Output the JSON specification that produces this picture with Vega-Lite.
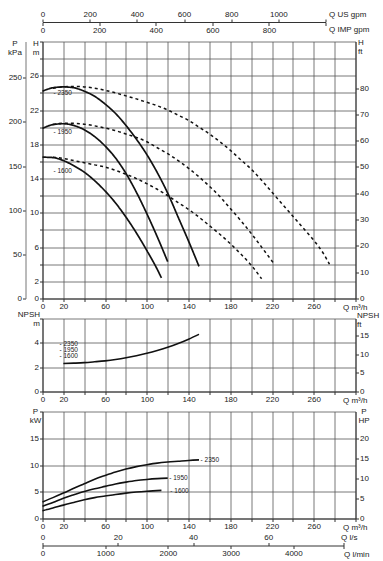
{
  "$schema": "https://vega.github.io/schema/vega-lite/v6.json",
  "padding": {"left": 7.5, "top": 9.5, "right": 5, "bottom": 5},
  "bounds": "flush",
  "spacing": 20,
  "datasets": {
    "head": [
      {"series": "2350 solid", "style": "solid", "Q": 0, "H": 24.2},
      {"series": "2350 solid", "style": "solid", "Q": 10, "H": 24.6},
      {"series": "2350 solid", "style": "solid", "Q": 20, "H": 24.7},
      {"series": "2350 solid", "style": "solid", "Q": 30, "H": 24.6},
      {"series": "2350 solid", "style": "solid", "Q": 40, "H": 24.2},
      {"series": "2350 solid", "style": "solid", "Q": 50, "H": 23.6},
      {"series": "2350 solid", "style": "solid", "Q": 60, "H": 22.7},
      {"series": "2350 solid", "style": "solid", "Q": 70, "H": 21.6},
      {"series": "2350 solid", "style": "solid", "Q": 80, "H": 20.2},
      {"series": "2350 solid", "style": "solid", "Q": 90, "H": 18.6},
      {"series": "2350 solid", "style": "solid", "Q": 100, "H": 16.8},
      {"series": "2350 solid", "style": "solid", "Q": 110, "H": 14.7},
      {"series": "2350 solid", "style": "solid", "Q": 120, "H": 12.3},
      {"series": "2350 solid", "style": "solid", "Q": 130, "H": 9.5},
      {"series": "2350 solid", "style": "solid", "Q": 140, "H": 6.7},
      {"series": "2350 solid", "style": "solid", "Q": 150, "H": 3.75},
      {"series": "1950 solid", "style": "solid", "Q": 0, "H": 19.85},
      {"series": "1950 solid", "style": "solid", "Q": 10, "H": 20.3},
      {"series": "1950 solid", "style": "solid", "Q": 20, "H": 20.4},
      {"series": "1950 solid", "style": "solid", "Q": 30, "H": 20.2},
      {"series": "1950 solid", "style": "solid", "Q": 40, "H": 19.7},
      {"series": "1950 solid", "style": "solid", "Q": 50, "H": 18.9},
      {"series": "1950 solid", "style": "solid", "Q": 60, "H": 17.8},
      {"series": "1950 solid", "style": "solid", "Q": 70, "H": 16.4},
      {"series": "1950 solid", "style": "solid", "Q": 80, "H": 14.6},
      {"series": "1950 solid", "style": "solid", "Q": 90, "H": 12.4},
      {"series": "1950 solid", "style": "solid", "Q": 100, "H": 9.9},
      {"series": "1950 solid", "style": "solid", "Q": 110, "H": 7.2},
      {"series": "1950 solid", "style": "solid", "Q": 120, "H": 4.3},
      {"series": "1600 solid", "style": "solid", "Q": 0, "H": 16.5},
      {"series": "1600 solid", "style": "solid", "Q": 10, "H": 16.45},
      {"series": "1600 solid", "style": "solid", "Q": 20, "H": 16.1},
      {"series": "1600 solid", "style": "solid", "Q": 30, "H": 15.5},
      {"series": "1600 solid", "style": "solid", "Q": 40, "H": 14.75},
      {"series": "1600 solid", "style": "solid", "Q": 50, "H": 13.75},
      {"series": "1600 solid", "style": "solid", "Q": 60, "H": 12.55},
      {"series": "1600 solid", "style": "solid", "Q": 70, "H": 11.15},
      {"series": "1600 solid", "style": "solid", "Q": 80, "H": 9.5},
      {"series": "1600 solid", "style": "solid", "Q": 90, "H": 7.65},
      {"series": "1600 solid", "style": "solid", "Q": 100, "H": 5.6},
      {"series": "1600 solid", "style": "solid", "Q": 110, "H": 3.4},
      {"series": "1600 solid", "style": "solid", "Q": 114, "H": 2.4},
      {"series": "2350 dashed", "style": "dashed", "Q": 10, "H": 24.55},
      {"series": "2350 dashed", "style": "dashed", "Q": 20, "H": 24.7},
      {"series": "2350 dashed", "style": "dashed", "Q": 30, "H": 24.75},
      {"series": "2350 dashed", "style": "dashed", "Q": 40, "H": 24.7},
      {"series": "2350 dashed", "style": "dashed", "Q": 50, "H": 24.55},
      {"series": "2350 dashed", "style": "dashed", "Q": 60, "H": 24.3},
      {"series": "2350 dashed", "style": "dashed", "Q": 70, "H": 24.0},
      {"series": "2350 dashed", "style": "dashed", "Q": 80, "H": 23.65},
      {"series": "2350 dashed", "style": "dashed", "Q": 90, "H": 23.3},
      {"series": "2350 dashed", "style": "dashed", "Q": 100, "H": 22.9},
      {"series": "2350 dashed", "style": "dashed", "Q": 110, "H": 22.5},
      {"series": "2350 dashed", "style": "dashed", "Q": 120, "H": 22.0},
      {"series": "2350 dashed", "style": "dashed", "Q": 130, "H": 21.4},
      {"series": "2350 dashed", "style": "dashed", "Q": 140, "H": 20.8},
      {"series": "2350 dashed", "style": "dashed", "Q": 150, "H": 20.0},
      {"series": "2350 dashed", "style": "dashed", "Q": 160, "H": 19.2},
      {"series": "2350 dashed", "style": "dashed", "Q": 170, "H": 18.3},
      {"series": "2350 dashed", "style": "dashed", "Q": 180, "H": 17.3},
      {"series": "2350 dashed", "style": "dashed", "Q": 190, "H": 16.2},
      {"series": "2350 dashed", "style": "dashed", "Q": 200, "H": 15.1},
      {"series": "2350 dashed", "style": "dashed", "Q": 210, "H": 13.8},
      {"series": "2350 dashed", "style": "dashed", "Q": 220, "H": 12.4},
      {"series": "2350 dashed", "style": "dashed", "Q": 230, "H": 11.0},
      {"series": "2350 dashed", "style": "dashed", "Q": 240, "H": 9.6},
      {"series": "2350 dashed", "style": "dashed", "Q": 250, "H": 8.2},
      {"series": "2350 dashed", "style": "dashed", "Q": 260, "H": 6.8},
      {"series": "2350 dashed", "style": "dashed", "Q": 270, "H": 5.1},
      {"series": "2350 dashed", "style": "dashed", "Q": 275, "H": 4.0},
      {"series": "1950 dashed", "style": "dashed", "Q": 10, "H": 20.3},
      {"series": "1950 dashed", "style": "dashed", "Q": 20, "H": 20.45},
      {"series": "1950 dashed", "style": "dashed", "Q": 30, "H": 20.45},
      {"series": "1950 dashed", "style": "dashed", "Q": 40, "H": 20.35},
      {"series": "1950 dashed", "style": "dashed", "Q": 50, "H": 20.15},
      {"series": "1950 dashed", "style": "dashed", "Q": 60, "H": 19.9},
      {"series": "1950 dashed", "style": "dashed", "Q": 70, "H": 19.6},
      {"series": "1950 dashed", "style": "dashed", "Q": 80, "H": 19.2},
      {"series": "1950 dashed", "style": "dashed", "Q": 90, "H": 18.8},
      {"series": "1950 dashed", "style": "dashed", "Q": 100, "H": 18.3},
      {"series": "1950 dashed", "style": "dashed", "Q": 110, "H": 17.6},
      {"series": "1950 dashed", "style": "dashed", "Q": 120, "H": 16.9},
      {"series": "1950 dashed", "style": "dashed", "Q": 130, "H": 16.1},
      {"series": "1950 dashed", "style": "dashed", "Q": 140, "H": 15.2},
      {"series": "1950 dashed", "style": "dashed", "Q": 150, "H": 14.2},
      {"series": "1950 dashed", "style": "dashed", "Q": 160, "H": 13.1},
      {"series": "1950 dashed", "style": "dashed", "Q": 170, "H": 11.9},
      {"series": "1950 dashed", "style": "dashed", "Q": 180, "H": 10.5},
      {"series": "1950 dashed", "style": "dashed", "Q": 190, "H": 9.1},
      {"series": "1950 dashed", "style": "dashed", "Q": 200, "H": 7.6},
      {"series": "1950 dashed", "style": "dashed", "Q": 210, "H": 6.0},
      {"series": "1950 dashed", "style": "dashed", "Q": 221, "H": 4.2},
      {"series": "1600 dashed", "style": "dashed", "Q": 10, "H": 16.5},
      {"series": "1600 dashed", "style": "dashed", "Q": 20, "H": 16.35},
      {"series": "1600 dashed", "style": "dashed", "Q": 30, "H": 16.1},
      {"series": "1600 dashed", "style": "dashed", "Q": 40, "H": 15.85},
      {"series": "1600 dashed", "style": "dashed", "Q": 50, "H": 15.6},
      {"series": "1600 dashed", "style": "dashed", "Q": 60, "H": 15.35},
      {"series": "1600 dashed", "style": "dashed", "Q": 70, "H": 14.95},
      {"series": "1600 dashed", "style": "dashed", "Q": 80, "H": 14.5},
      {"series": "1600 dashed", "style": "dashed", "Q": 90, "H": 14.0},
      {"series": "1600 dashed", "style": "dashed", "Q": 100, "H": 13.4},
      {"series": "1600 dashed", "style": "dashed", "Q": 110, "H": 12.75},
      {"series": "1600 dashed", "style": "dashed", "Q": 120, "H": 12.0},
      {"series": "1600 dashed", "style": "dashed", "Q": 130, "H": 11.2},
      {"series": "1600 dashed", "style": "dashed", "Q": 140, "H": 10.4},
      {"series": "1600 dashed", "style": "dashed", "Q": 150, "H": 9.5},
      {"series": "1600 dashed", "style": "dashed", "Q": 160, "H": 8.5},
      {"series": "1600 dashed", "style": "dashed", "Q": 170, "H": 7.5},
      {"series": "1600 dashed", "style": "dashed", "Q": 180, "H": 6.4},
      {"series": "1600 dashed", "style": "dashed", "Q": 190, "H": 5.2},
      {"series": "1600 dashed", "style": "dashed", "Q": 200, "H": 3.9},
      {"series": "1600 dashed", "style": "dashed", "Q": 210, "H": 2.3}
    ],
    "headLabels": [
      {"Q": 10.5, "H": 24.0, "t": "- 2350"},
      {"Q": 10.5, "H": 19.4, "t": "- 1950"},
      {"Q": 10.5, "H": 14.9, "t": "- 1600"}
    ],
    "npsh": [
      {"Q": 20, "N": 2.3}, {"Q": 30, "N": 2.33}, {"Q": 40, "N": 2.37}, {"Q": 50, "N": 2.44},
      {"Q": 60, "N": 2.52}, {"Q": 70, "N": 2.63}, {"Q": 80, "N": 2.77}, {"Q": 90, "N": 2.94},
      {"Q": 100, "N": 3.14}, {"Q": 110, "N": 3.37}, {"Q": 120, "N": 3.63}, {"Q": 130, "N": 3.94},
      {"Q": 140, "N": 4.3}, {"Q": 150, "N": 4.7}
    ],
    "npshLabels": [
      {"Q": 16.3, "N": 3.88, "t": "- 2350"},
      {"Q": 16.3, "N": 3.39, "t": "- 1950"},
      {"Q": 16.3, "N": 2.89, "t": "- 1600"}
    ],
    "power": [
      {"series": "2350", "Q": 0, "P": 3.1}, {"series": "2350", "Q": 10, "P": 3.9}, {"series": "2350", "Q": 20, "P": 4.75},
      {"series": "2350", "Q": 30, "P": 5.65}, {"series": "2350", "Q": 40, "P": 6.5}, {"series": "2350", "Q": 50, "P": 7.35},
      {"series": "2350", "Q": 60, "P": 8.05}, {"series": "2350", "Q": 70, "P": 8.7}, {"series": "2350", "Q": 80, "P": 9.25},
      {"series": "2350", "Q": 90, "P": 9.7}, {"series": "2350", "Q": 100, "P": 10.05}, {"series": "2350", "Q": 110, "P": 10.35},
      {"series": "2350", "Q": 120, "P": 10.55}, {"series": "2350", "Q": 130, "P": 10.7}, {"series": "2350", "Q": 140, "P": 10.85},
      {"series": "2350", "Q": 150, "P": 10.95},
      {"series": "1950", "Q": 0, "P": 2.3}, {"series": "1950", "Q": 10, "P": 3.0}, {"series": "1950", "Q": 20, "P": 3.8},
      {"series": "1950", "Q": 30, "P": 4.45}, {"series": "1950", "Q": 40, "P": 5.05}, {"series": "1950", "Q": 50, "P": 5.55},
      {"series": "1950", "Q": 60, "P": 6.0}, {"series": "1950", "Q": 70, "P": 6.45}, {"series": "1950", "Q": 80, "P": 6.8},
      {"series": "1950", "Q": 90, "P": 7.1}, {"series": "1950", "Q": 100, "P": 7.3}, {"series": "1950", "Q": 110, "P": 7.45},
      {"series": "1950", "Q": 120, "P": 7.55},
      {"series": "1600", "Q": 0, "P": 1.45}, {"series": "1600", "Q": 10, "P": 1.95}, {"series": "1600", "Q": 20, "P": 2.5},
      {"series": "1600", "Q": 30, "P": 3.0}, {"series": "1600", "Q": 40, "P": 3.5}, {"series": "1600", "Q": 50, "P": 3.9},
      {"series": "1600", "Q": 60, "P": 4.2}, {"series": "1600", "Q": 70, "P": 4.5}, {"series": "1600", "Q": 80, "P": 4.75},
      {"series": "1600", "Q": 90, "P": 4.95}, {"series": "1600", "Q": 100, "P": 5.1}, {"series": "1600", "Q": 114, "P": 5.25}
    ],
    "powerLabels": [
      {"Q": 151.5, "P": 11.0, "t": "- 2350"},
      {"Q": 121.5, "P": 7.5, "t": "- 1950"},
      {"Q": 122.5, "P": 5.2, "t": "- 1600"}
    ],
    "zero": [{"v": 0, "w": 0}]
  },
  "vconcat": [
    {
      "width": 313,
      "height": 257,
      "resolve": {"scale": {"x": "independent", "y": "independent"}},
      "layer": [
        {
          "data": {"name": "head"},
          "mark": {"type": "line", "interpolate": "monotone", "color": "#111"},
          "encoding": {
            "x": {"field": "Q", "type": "quantitative", "scale": {"domain": [0, 300], "nice": false},
              "axis": {"orient": "bottom", "values": [0,20,40,60,80,100,120,140,160,180,200,220,240,260,280,300],
                "labelExpr": "(datum.value == 0 || datum.value % 40 == 20) && datum.value < 280 ? datum.label : ''",
                "grid": true, "title": "Q m³/h", "titleX": 300, "titleY": 9, "titleAlign": "left", "titleBaseline": "middle"}},
            "y": {"field": "H", "type": "quantitative", "scale": {"domain": [0, 30], "nice": false},
              "axis": {"orient": "left", "values": [0,2,4,6,8,10,12,14,16,18,20,22,24,26,28,30],
                "labelExpr": "datum.value == 0 || (datum.value % 4 == 2 && datum.value < 28) ? datum.label : ''",
                "grid": true, "title": ["H", "m"], "titleX": -7, "titleY": -2, "titleAlign": "center", "titleBaseline": "top"}},
            "detail": {"field": "series"},
            "strokeDash": {"field": "style", "type": "nominal", "scale": {"domain": ["solid", "dashed"], "range": [[1, 0], [3, 3]]}, "legend": null},
            "strokeWidth": {"field": "style", "type": "nominal", "scale": {"domain": ["solid", "dashed"], "range": [1.7, 1.5]}, "legend": null}
          }
        },
        {
          "data": {"name": "headLabels"},
          "mark": {"type": "text", "align": "left", "baseline": "middle", "fontSize": 6.5, "color": "#222"},
          "encoding": {
            "x": {"field": "Q", "type": "quantitative", "scale": {"domain": [0, 300], "nice": false}, "axis": null},
            "y": {"field": "H", "type": "quantitative", "scale": {"domain": [0, 30], "nice": false}, "axis": null},
            "text": {"field": "t"}
          }
        },
        {
          "data": {"name": "zero"},
          "mark": {"type": "point", "opacity": 0},
          "encoding": {
            "x": {"field": "w", "type": "quantitative", "scale": {"domain": [0, 300], "nice": false}, "axis": null},
            "y": {"field": "v", "type": "quantitative", "scale": {"domain": [0, 97.7], "nice": false},
              "axis": {"orient": "right", "values": [0,10,20,30,40,50,60,70,80], "grid": false,
                "title": ["H", "ft"], "titleX": 2, "titleY": -3, "titleAlign": "left", "titleBaseline": "top"}}
          }
        },
        {
          "data": {"name": "zero"},
          "mark": {"type": "point", "opacity": 0},
          "encoding": {
            "x": {"field": "w", "type": "quantitative", "scale": {"domain": [0, 300], "nice": false}, "axis": null},
            "y": {"field": "v", "type": "quantitative", "scale": {"domain": [0, 291], "nice": false},
              "axis": {"orient": "left", "offset": 17, "values": [0,50,100,150,200,250], "grid": false, "domainColor": "#777",
                "title": ["P", "kPa"], "titleX": -11, "titleY": -2, "titleAlign": "center", "titleBaseline": "top"}}
          }
        },
        {
          "data": {"name": "zero"},
          "mark": {"type": "point", "opacity": 0},
          "encoding": {
            "x": {"field": "v", "type": "quantitative", "scale": {"domain": [0, 1200], "range": [0, 283], "nice": false},
              "axis": {"orient": "top", "offset": 19.5, "values": [0,200,400,600,800,1000,1200], "grid": false, "format": "d",
                "labelExpr": "datum.value < 1200 ? datum.label : ''",
                "title": "Q US gpm", "titleX": 286, "titleY": -8, "titleAlign": "left", "titleBaseline": "middle"}},
            "y": {"field": "w", "type": "quantitative", "scale": {"domain": [0, 30], "nice": false}, "axis": null}
          }
        },
        {
          "data": {"name": "zero"},
          "mark": {"type": "point", "opacity": 0},
          "encoding": {
            "x": {"field": "v", "type": "quantitative", "scale": {"domain": [0, 1000], "range": [0, 283], "nice": false},
              "axis": {"orient": "bottom", "offset": -276, "values": [0,200,400,600,800,1000], "grid": false, "domain": false, "format": "d",
                "labelExpr": "datum.value < 1000 ? datum.label : ''",
                "title": "Q IMP gpm", "titleX": 286, "titleY": 7, "titleAlign": "left", "titleBaseline": "middle"}},
            "y": {"field": "w", "type": "quantitative", "scale": {"domain": [0, 30], "nice": false}, "axis": null}
          }
        }
      ]
    },
    {
      "width": 313,
      "height": 73,
      "resolve": {"scale": {"x": "independent", "y": "independent"}},
      "layer": [
        {
          "data": {"name": "npsh"},
          "mark": {"type": "line", "interpolate": "monotone", "color": "#111", "strokeWidth": 1.6},
          "encoding": {
            "x": {"field": "Q", "type": "quantitative", "scale": {"domain": [0, 300], "nice": false},
              "axis": {"orient": "bottom", "values": [0,20,40,60,80,100,120,140,160,180,200,220,240,260,280,300],
                "labelExpr": "(datum.value == 0 || datum.value % 40 == 20) && datum.value < 280 ? datum.label : ''",
                "grid": true, "title": "Q m³/h", "titleX": 300, "titleY": 9, "titleAlign": "left", "titleBaseline": "middle"}},
            "y": {"field": "N", "type": "quantitative", "scale": {"domain": [0, 6], "nice": false},
              "axis": {"orient": "left", "values": [0,2,4,6], "labelExpr": "datum.value < 6 ? datum.label : ''",
                "grid": true, "title": ["NPSH", "m"], "titleX": -3, "titleY": -8, "titleAlign": "right", "titleBaseline": "top"}}
          }
        },
        {
          "data": {"name": "npshLabels"},
          "mark": {"type": "text", "align": "left", "baseline": "middle", "fontSize": 6.5, "color": "#222"},
          "encoding": {
            "x": {"field": "Q", "type": "quantitative", "scale": {"domain": [0, 300], "nice": false}, "axis": null},
            "y": {"field": "N", "type": "quantitative", "scale": {"domain": [0, 6], "nice": false}, "axis": null},
            "text": {"field": "t"}
          }
        },
        {
          "data": {"name": "zero"},
          "mark": {"type": "point", "opacity": 0},
          "encoding": {
            "x": {"field": "w", "type": "quantitative", "scale": {"domain": [0, 300], "nice": false}, "axis": null},
            "y": {"field": "v", "type": "quantitative", "scale": {"domain": [0, 19.69], "nice": false},
              "axis": {"orient": "right", "values": [0,5,10,15], "grid": false,
                "title": ["NPSH", "ft"], "titleX": 1, "titleY": -7, "titleAlign": "left", "titleBaseline": "top"}}
          }
        }
      ]
    },
    {
      "width": 313,
      "height": 107,
      "resolve": {"scale": {"x": "independent", "y": "independent"}},
      "layer": [
        {
          "data": {"name": "power"},
          "mark": {"type": "line", "interpolate": "monotone", "color": "#111", "strokeWidth": 1.6},
          "encoding": {
            "x": {"field": "Q", "type": "quantitative", "scale": {"domain": [0, 300], "nice": false},
              "axis": {"orient": "bottom", "values": [0,20,40,60,80,100,120,140,160,180,200,220,240,260,280,300],
                "labelExpr": "(datum.value == 0 || datum.value % 40 == 20) && datum.value < 280 ? datum.label : ''",
                "grid": true, "title": "Q m³/h", "titleX": 300, "titleY": 9, "titleAlign": "left", "titleBaseline": "middle"}},
            "y": {"field": "P", "type": "quantitative", "scale": {"domain": [0, 20], "nice": false},
              "axis": {"orient": "left", "values": [0,5,10,15,20], "labelExpr": "datum.value < 20 ? datum.label : ''",
                "grid": true, "title": ["P", "kW"], "titleX": -7.5, "titleY": -4, "titleAlign": "center", "titleBaseline": "top"}},
            "detail": {"field": "series"}
          }
        },
        {
          "data": {"name": "powerLabels"},
          "mark": {"type": "text", "align": "left", "baseline": "middle", "fontSize": 6.5, "color": "#222"},
          "encoding": {
            "x": {"field": "Q", "type": "quantitative", "scale": {"domain": [0, 300], "nice": false}, "axis": null},
            "y": {"field": "P", "type": "quantitative", "scale": {"domain": [0, 20], "nice": false}, "axis": null},
            "text": {"field": "t"}
          }
        },
        {
          "data": {"name": "zero"},
          "mark": {"type": "point", "opacity": 0},
          "encoding": {
            "x": {"field": "w", "type": "quantitative", "scale": {"domain": [0, 300], "nice": false}, "axis": null},
            "y": {"field": "v", "type": "quantitative", "scale": {"domain": [0, 26.82], "nice": false},
              "axis": {"orient": "right", "values": [0,5,10,15,20], "grid": false,
                "title": ["P", "HP"], "titleX": 8, "titleY": -4, "titleAlign": "center", "titleBaseline": "top"}}
          }
        },
        {
          "data": {"name": "zero"},
          "mark": {"type": "point", "opacity": 0},
          "encoding": {
            "x": {"field": "v", "type": "quantitative", "scale": {"domain": [0, 80], "range": [0, 301], "nice": false},
              "axis": {"orient": "top", "offset": -134, "values": [0,20,40,60,80], "grid": false,
                "labelExpr": "datum.value < 80 ? datum.label : ''",
                "title": "Q l/s", "titleX": 298, "titleY": -8, "titleAlign": "left", "titleBaseline": "middle"}},
            "y": {"field": "w", "type": "quantitative", "scale": {"domain": [0, 20], "nice": false}, "axis": null}
          }
        },
        {
          "data": {"name": "zero"},
          "mark": {"type": "point", "opacity": 0},
          "encoding": {
            "x": {"field": "v", "type": "quantitative", "scale": {"domain": [0, 4800], "range": [0, 301], "nice": false},
              "axis": {"orient": "bottom", "offset": 27, "values": [0,1000,2000,3000,4000,4800], "grid": false, "domain": false, "format": "d",
                "labelExpr": "datum.value < 4800 ? datum.label : ''",
                "title": "Q l/min", "titleX": 301, "titleY": 9, "titleAlign": "left", "titleBaseline": "middle"}},
            "y": {"field": "w", "type": "quantitative", "scale": {"domain": [0, 20], "nice": false}, "axis": null}
          }
        }
      ]
    }
  ],
  "config": {
    "font": "Liberation Sans",
    "view": {"stroke": null},
    "axis": {
      "labelFont": "Liberation Sans", "labelFontSize": 8, "labelColor": "#222", "labelFlush": false, "labelOverlap": false, "labelPadding": 1,
      "titleFont": "Liberation Sans", "titleFontSize": 8, "titleFontWeight": "normal", "titleColor": "#222", "titleAngle": 0, "titleLineHeight": 9,
      "domainColor": "#333", "domainWidth": 1, "tickColor": "#333", "tickSize": 3, "tickWidth": 1,
      "gridColor": "#555", "gridWidth": 0.8, "gridOpacity": 1
    }
  }
}
